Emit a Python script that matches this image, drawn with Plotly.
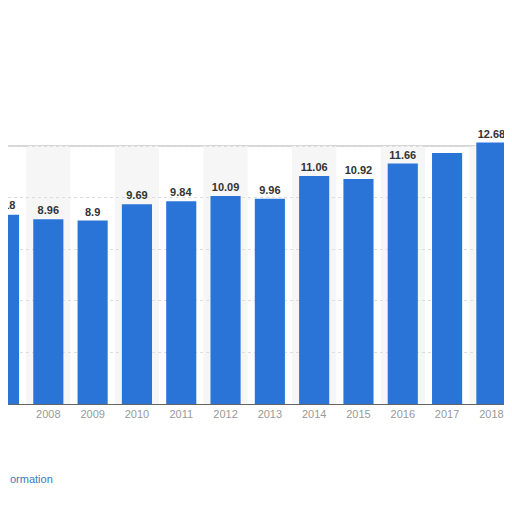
import plotly.graph_objs as go

years = ['2007', '2008', '2009', '2010', '2011', '2012', '2013', '2014', '2015', '2016', '2017', '2018']
values = [9.18, 8.96, 8.9, 9.69, 9.84, 10.09, 9.96, 11.06, 10.92, 11.66, 12.18, 12.68]
labels = ['9.18', '8.96', '8.9', '9.69', '9.84', '10.09', '9.96', '11.06', '10.92', '11.66', '', '12.68']

frame_top = 12.52
x_left, x_right = 0.09, 11.42
label_font = dict(color='#333333', size=11, family='Liberation Sans', weight='bold')

fig = go.Figure()

# light alternating column bands behind bars
for i in range(len(years)):
    if i % 2 == 1:
        fig.add_shape(type='rect', xref='x', yref='y', x0=i - 0.5, x1=i + 0.5, y0=0, y1=frame_top,
                      fillcolor='#f6f6f6', line=dict(width=0), layer='below')

fig.add_trace(go.Bar(x=list(range(len(years))), y=values, text=labels, textposition='outside',
                     textfont=label_font,
                     marker=dict(color='#2a74d8', line=dict(width=0)), width=0.68, cliponaxis=False))

fig.update_layout(width=504, height=504, autosize=False, showlegend=False,
                  margin=dict(l=0, r=2, t=128, b=108),
                  paper_bgcolor='white', plot_bgcolor='white',
                  font=dict(family='Liberation Sans'),
                  annotations=[
                      # first bar sits half outside the view, so its label is pinned to the left edge
                      dict(text=labels[0], xref='x', yref='y', x=x_left, y=values[0], xanchor='center',
                           yanchor='bottom', yshift=2, xshift=-4, showarrow=False, font=label_font),
                      dict(text='ormation', xref='paper', yref='paper', x=0, y=-0.28,
                           xanchor='left', yanchor='middle', showarrow=False,
                           font=dict(color='#3a7bbf', size=11))])

fig.update_xaxes(range=[x_left, x_right], tickmode='array', tickvals=list(range(len(years))), ticktext=years,
                 tickfont=dict(color='#999999', size=11), showgrid=False, zeroline=False,
                 showline=True, linecolor='#666666', linewidth=1, ticks='', automargin=False)
fig.update_yaxes(range=[0, 13.0], dtick=2.5, showticklabels=False, showgrid=True,
                 gridcolor='#dddddd', griddash='dot', zeroline=False, showline=False, automargin=False)

# frame around the chart area
fig.add_shape(type='line', xref='paper', yref='y', x0=0, x1=1, y0=frame_top, y1=frame_top,
              line=dict(color='#c8c8c8', width=1.5), layer='below')
fig.add_shape(type='line', xref='paper', yref='y', x0=1, x1=1, y0=0, y1=frame_top,
              line=dict(color='#c8c8c8', width=1.5), layer='below')

fig.write_html("out.html")
